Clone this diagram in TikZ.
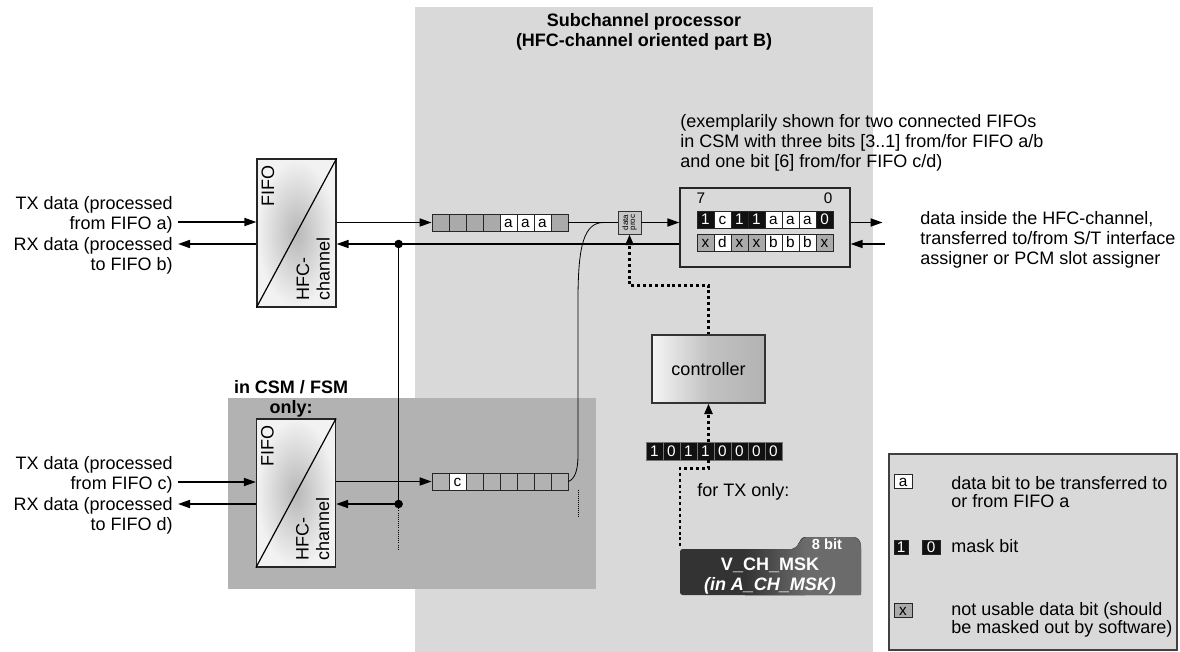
\documentclass[tikz,border=0pt]{standalone}
\usepackage{fontspec}
\setmainfont{Liberation Sans}
\usetikzlibrary{arrows.meta, positioning, calc}
\definecolor{panellight}{RGB}{217, 217, 217}
\definecolor{paneldark}{RGB}{178, 178, 178}
\definecolor{cellgray}{RGB}{170, 170, 170}
\definecolor{maskblack}{RGB}{17, 17, 17}
\definecolor{regdark}{RGB}{51, 51, 51}
\newcommand{\txtfont}{\fontsize{13.5}{15.2}\selectfont}
\newcommand{\cellfont}{\fontsize{11.5}{12}\selectfont}
\newcommand{\vchshape}{(680,549) -- (792,549) .. controls (799,549) and (798,537) .. (808,537) -- (851,537) .. controls (858,537) and (861,541) .. (861,549) -- (861,595) -- (680,595) -- cycle}

\begin{document}
\begin{tikzpicture}[
        x=0.75pt, y=-0.75pt,
        every node/.style={font=\txtfont, inner sep=0pt},
        arrow/.style={-{Triangle[length=9pt, width=6pt]}, line width=1.2pt},
        wire/.style={line width=1.2pt},
        dotline/.style={line width=2.2pt, dash pattern=on 2.2pt off 2.2pt},
        fifo/.style={draw=black!85, line width=0.9pt, minimum width=59.25pt,
                     minimum height=111pt, inner color=black!28, outer color=black!5},
        cell/.style={draw=black!85, line width=0.6pt, minimum width=12.75pt,
                     minimum height=12.75pt, font=\cellfont, text height=8.2pt, text depth=0pt},
        cblack/.style={fill=maskblack, text=white},
        cwhite/.style={fill=white},
        cgray/.style={fill=cellgray},
        cnone/.style={},
        bitcell/.style={draw=black!55, line width=0.5pt, fill=maskblack, text=white,
                        minimum width=12.75pt, minimum height=13.5pt,
                        font=\fontsize{11.5}{12}\selectfont, text height=8.2pt, text depth=0pt},
        sidetext/.style={align=right, anchor=east, inner xsep=3.75pt},
    ]
    \useasboundingbox (0,0) rectangle (1180,652);

    % background panels
    \fill[panellight] (415,7) rectangle (873,652);
    \fill[paneldark] (228,398) rectangle (596,589);

    \node[font=\txtfont\bfseries, align=center] (title) at (644,32) {Subchannel processor\\(HFC-channel oriented part B)};
    \node[font=\txtfont\bfseries, align=center] (csm) at (291,399) {in CSM / FSM\\only:};

    % FIFOs
    \node[fifo] (fifoA) at (296.5,233) {};
    \draw[line width=0.9pt] (fifoA.south west) -- (fifoA.north east);
    \node[rotate=90] (fifoAtop) at ($(fifoA.north west)+(11.5,27.5)$) {FIFO};
    \node[rotate=90, align=left, anchor=north west] (fifoAbot) at ($(fifoA.south west)+(40,-7)$) {HFC-\\channel};

    \node[fifo] (fifoB) at (296,493) {};
    \draw[line width=0.9pt] (fifoB.south west) -- (fifoB.north east);
    \node[rotate=90] (fifoBtop) at ($(fifoB.north west)+(11.5,27.5)$) {FIFO};
    \node[rotate=90, align=left, anchor=north west] (fifoBbot) at ($(fifoB.south west)+(40,-7)$) {HFC-\\channel};

    \node[sidetext] (txa) at (178,215) {TX data (processed\\from FIFO a)};
    \node[sidetext] (rxb) at (178,256) {RX data (processed\\to FIFO b)};
    \node[sidetext] (txc) at (178,475) {TX data (processed\\from FIFO c)};
    \node[sidetext] (rxd) at (178,516) {RX data (processed\\to FIFO d)};

    \coordinate (inA) at ($(fifoA.west)+(0,-11)$);
    \coordinate (outA) at ($(fifoA.west)+(0,11)$);
    \coordinate (inB) at ($(fifoB.west)+(0,-11)$);
    \coordinate (outB) at ($(fifoB.west)+(0,11)$);
    \draw[arrow] (txa.east |- inA) -- (inA);
    \draw[arrow] (outA) -- (rxb.east |- outA);
    \draw[arrow] (txc.east |- inB) -- (inB);
    \draw[arrow] (outB) -- (rxd.east |- outB);

    % shift registers
    \foreach \s/\t [count=\i from 0] in {cgray/,cgray/,cgray/,cgray/,cwhite/a,cwhite/a,cwhite/a,cgray/}
        \node[cell, \s] (sa\i) at (440.5+17*\i, 222.5) {\t};
    \foreach \s/\t [count=\i from 0] in {cnone/,cwhite/c,cnone/,cnone/,cnone/,cnone/,cnone/,cnone/}
        \node[cell, \s] (sb\i) at (440.5+17*\i, 481.5) {\t};
    \draw[arrow] (fifoA.east |- sa0.west) -- (sa0.west);
    \draw[arrow] (fifoB.east |- sb0.west) -- (sb0.west);

    % data proc and HFC-channel register
    \node[draw=black!80, line width=0.6pt, fill=black!22, minimum width=17.25pt, minimum height=17.25pt] (dp) at (629.5,222.5) {};
    \node[rotate=90, align=center, font=\fontsize{6}{5.2}\selectfont] (dptext) at (dp) {data\\proc};
    \node[draw=black!85, line width=0.9pt, fill=panellight, minimum width=127.5pt, minimum height=59.25pt] (reg) at (765,227.5) {};
    \node[font=\cellfont] (msb) at (701,198) {7};
    \node[font=\cellfont] (lsb) at (828,198) {0};
    \foreach \s/\t [count=\i from 0] in {cblack/1,cwhite/c,cblack/1,cblack/1,cwhite/a,cwhite/a,cwhite/a,cblack/0}
        \node[cell, \s] (ra\i) at (705.5+17*\i, 219.5) {\t};
    \foreach \s/\t [count=\i from 0] in {cgray/x,cwhite/d,cgray/x,cgray/x,cwhite/b,cwhite/b,cwhite/b,cgray/x}
        \node[cell, \s] (rb\i) at (705.5+17*\i, 242.5) {\t};

    \coordinate (merge) at ($(sa7.east)!0.72!(dp.west)$);
    \draw[wire] (sa7.east) -- (dp.west);
    \draw[arrow] (dp.east) -- (reg.west |- dp.east);
    \draw[line width=0.6pt] (sb7.east) .. controls (575,479) and (578,470) .. (578,455)
        -- (578,300) .. controls (578,245) and (584,222.5) .. (merge);
    \draw[line width=0.5pt, densely dotted] ($(sb7.east)+(10,8)$) -- ++(0,28);

    \coordinate (rxA) at ($(fifoA.east)+(0,11)$);
    \coordinate (rxB) at ($(fifoB.east)+(0,11)$);
    \coordinate (jA) at ($(rxA)+(62,0)$);
    \coordinate (jB) at (jA |- rxB);
    \draw[arrow] (reg.west |- rxA) -- (rxA);
    \draw[wire] (jA) -- (jB);
    \draw[arrow] (jB) -- (rxB);
    \draw[line width=0.6pt, densely dotted] (jB) -- ++(0,46);
    \fill (jA) circle (3.2pt);
    \fill (jB) circle (3.2pt);

    \node[anchor=west, align=left] (note) at (680,143) {(exemplarily shown for two connected FIFOs\\in CSM with three bits [3..1] from/for FIFO a/b\\and one bit [6] from/for FIFO c/d)};
    \node[anchor=west, align=left] (hfc) at (920,240) {data inside the HFC-channel,\\transferred to/from S/T interface\\assigner or PCM slot assigner};
    \coordinate (hfcout) at ($(reg.east |- dp.east)+(32,0)$);
    \coordinate (hfcin) at ($(reg.east |- rxA)+(34,0)$);
    \draw[arrow] (reg.east |- dp.east) -- (hfcout);
    \draw[arrow] (hfcin) -- (reg.east |- hfcin);

    % controller and mask
    \node[draw=black!80, line width=0.8pt, minimum width=84.75pt, minimum height=51pt,
          left color=black!4, right color=black!30, middle color=black!24] (ctrl) at (708.5,369) {controller};
    \draw[dotline, -{Triangle[length=8pt, width=6pt]}] (ctrl.north) -- ++(0,-49) -| (dp.south);

    \foreach \b [count=\i from 0] in {1,0,1,1,0,0,0,0}
        \node[bitcell] (bt\i) at (654.5+17*\i, 451) {\b};
    \draw[dotline, -{Triangle[length=8pt, width=6pt]}] (ctrl.south |- bt0.north) -- (ctrl.south);

    \node[anchor=west] (txonly) at (697,492) {for TX only:};

    \fill[regdark, rounded corners=2pt] \vchshape;
    \begin{scope}
        \clip \vchshape;
        \fill[left color=regdark, right color=black!58] (745,530) rectangle (805,600);
        \fill[black!58] (805,530) rectangle (865,600);
    \end{scope}
    \coordinate (vchcorner) at (680,549);
    \node[font=\txtfont\bfseries, text=white, align=center] (vch) at (770,576) {V\_CH\_MSK\\\textit{(in A\_CH\_MSK)}};
    \node[font=\fontsize{11}{12}\selectfont\bfseries, text=white] (vchbits) at (827,544) {8 bit};
    \draw[dotline] (ctrl.south |- bt0.south) -- ++(0,8) -| (vchcorner);

    % legend
    \node[draw=black!75, line width=0.8pt, fill=panellight, minimum width=216pt, minimum height=147pt] (legend) at (1033,552) {};
    \node[cell, cwhite, minimum width=13.5pt, minimum height=10.5pt] (lga) at (903,481) {a};
    \node[cell, cblack, minimum width=10.5pt, minimum height=10pt] (lg1) at (901,547.5) {1};
    \node[cell, cblack, minimum width=13.5pt, minimum height=10pt] (lg0) at (931,547.5) {0};
    \node[cell, cgray, minimum width=13.5pt, minimum height=11pt] (lgx) at (903,610.5) {x};
    \node[anchor=west, align=left, font=\fontsize{13.5}{13.7}\selectfont] (lgatxt) at (951,492) {data bit to be transferred to\\or from FIFO a};
    \node[anchor=west] (lgmtxt) at (951,546) {mask bit};
    \node[anchor=west, align=left, font=\fontsize{13.5}{13.7}\selectfont] (lgxtxt) at (951,620) {not usable data bit (should\\be masked out by software)};
\end{tikzpicture}
\end{document}
